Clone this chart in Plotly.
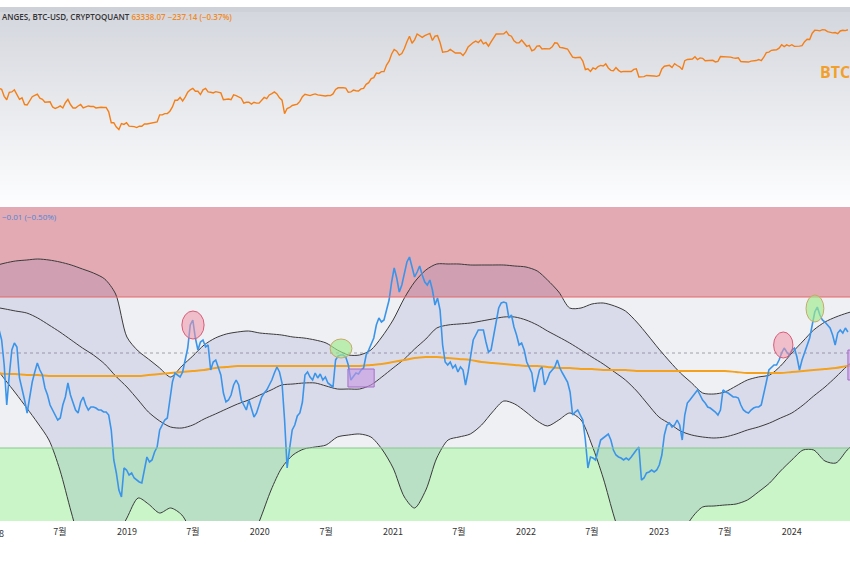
import pandas as pd
import plotly.graph_objects as go

# ---------------- data ----------------
week_start = "2018-01-15"   # weekly (Monday) series
btc_price = [
    11500, 11200, 9000, 8100, 10200, 10300, 11000, 9500, 8200, 8600, 7000, 6900, 8000, 8900, 9300, 9600,
    8500, 8200, 7500, 7500, 7600, 6500, 6200, 6400, 6700, 6300, 7400, 8200, 7000, 6300, 6300, 6700,
    7000, 6300, 6500, 6700, 6600, 6600, 6300, 6450, 6450, 6400, 6400, 5600, 4000, 4000, 3500, 3250,
    3900, 3800, 4000,
    3600, 3600, 3550, 3450, 3600, 3600, 3850, 3850, 3900, 3950, 4000, 4100, 5100, 5100, 5300, 5300,
    5700, 6500, 8000, 8000, 8700, 7800, 8800, 10200, 11000, 11500, 10500, 10500, 9500, 11000, 11500,
    10300, 10200, 10000, 10400, 10300, 10000, 8100, 8200, 8300, 8100, 9400, 9200, 8800, 8500, 7300,
    7500, 7500, 7100, 7500, 7300, 7300,
    8100, 8700, 8400, 9400, 9800, 10300, 9700, 8600, 8000, 5300, 6200, 6400, 6800, 6900, 7100, 7700,
    8900, 9600, 9300, 9200, 9500, 9700, 9400, 9300, 9100, 9100, 9250, 9200, 9700, 11100, 11700, 11800,
    11700, 11600, 10200, 10300, 10900, 10700, 10600, 11300, 11500, 13000, 13700, 15500, 16000, 18400,
    18200, 19200, 19200, 23500, 26500, 33000,
    38000, 36000, 32000, 33500, 39000, 48000, 57000, 46000, 51000, 61000, 58000, 55000, 58000, 60000,
    62000, 50000, 57000, 58000, 47000, 35000, 35500, 35800, 38000, 35500, 34000, 34000, 34000, 31500,
    35000, 41000, 44500, 47000, 49000, 47000, 51000, 45000, 47000, 42000, 48000, 55000, 61000, 61000,
    61500, 61500, 66000, 59000, 57000, 49500, 46500, 46500, 50500, 46500,
    41800, 43000, 36500, 37800, 42000, 42500, 38500, 39000, 38500, 38700, 41200, 46500, 46000, 40500,
    40000, 39500, 38500, 34000, 30000, 29400, 29400, 29900, 26500, 20500, 21000, 19300, 21500, 20800,
    22500, 23300, 22900, 24400, 21500, 20000, 19800, 21800, 20000, 19000, 19400, 19400, 19200, 19300,
    20600, 21000, 16300, 16500, 16500, 17100, 17100, 16800, 16800, 16600,
    17100, 20900, 22700, 23000, 23300, 21800, 24500, 23200, 22300, 20500, 26900, 27900, 28400, 28300,
    30400, 27800, 29300, 28900, 26800, 26800, 26800, 27200, 25900, 26300, 30500, 30500, 30300, 30200,
    30000, 29300, 29000, 29400, 26100, 26000, 25900, 25800, 26500, 26600, 27000, 27900, 26900, 29900,
    34500, 35000, 37000, 37400, 37500, 39500, 43800, 41400, 43700, 42100,
    43900, 41700, 41500, 42000, 42600, 48300, 52000, 51700, 62500, 68500, 68300, 67200, 69600, 69300,
    65600, 64900, 63100, 63900, 61500, 67000, 68500, 67700, 69500,
]
indicator = [
    1.91, 1.81, 1.56, 1.16, 1.46, 1.71, 1.78, 1.74, 1.43, 1.33,
    1.21, 1.08, 1.26, 1.39, 1.49, 1.58, 1.51, 1.46, 1.33, 1.26,
    1.16, 1.11, 1.06, 1.01, 1.03, 1.16, 1.24, 1.38, 1.26, 1.19,
    1.11, 1.08, 1.19, 1.24, 1.16, 1.11, 1.14, 1.14, 1.13, 1.11,
    1.11, 1.09, 1.09, 1.06, 0.91, 0.61, 0.48, 0.31, 0.24, 0.53,
    0.51, 0.46, 0.48, 0.43, 0.41, 0.39, 0.38, 0.51, 0.64, 0.59,
    0.61, 0.69, 0.74, 0.91, 0.96, 1.01, 1.03, 1.21, 1.39, 1.48,
    1.46, 1.44, 1.49, 1.63, 1.73, 1.96, 2.01, 1.83, 1.71, 1.79,
    1.81, 1.74, 1.76, 1.51, 1.59, 1.61, 1.53, 1.46, 1.28, 1.19,
    1.21, 1.26, 1.36, 1.41, 1.36, 1.21, 1.16, 1.11, 1.21, 1.11,
    1.04, 1.08, 1.16, 1.24, 1.28, 1.31, 1.36, 1.41, 1.48, 1.54,
    1.49, 1.38, 1.01, 0.53, 0.73, 0.91, 0.96, 1.05, 1.08, 1.19,
    1.46, 1.49, 1.44, 1.41, 1.48, 1.43, 1.47, 1.41, 1.44, 1.38,
    1.36, 1.34, 1.61, 1.65, 1.66, 1.66, 1.64, 1.56, 1.41, 1.44,
    1.48, 1.47, 1.51, 1.53, 1.66, 1.71, 1.78, 1.83, 1.96, 2.03,
    1.99, 2.01, 2.11, 2.21, 2.39, 2.53, 2.43, 2.29, 2.36, 2.46,
    2.59, 2.64, 2.53, 2.44, 2.49, 2.55, 2.46, 2.39, 2.36, 2.41,
    2.31, 2.16, 2.23, 2.11, 1.76, 1.59, 1.56, 1.59, 1.53, 1.56,
    1.49, 1.54, 1.51, 1.36, 1.49, 1.66, 1.81, 1.86, 1.91, 1.91,
    1.91, 1.79, 1.69, 1.71, 1.86, 1.99, 2.13, 2.18, 2.19, 2.18,
    2.03, 2.06, 1.94, 1.86, 1.76, 1.78, 1.71, 1.59, 1.53, 1.48,
    1.29, 1.41, 1.51, 1.54, 1.36, 1.41, 1.48, 1.51, 1.54, 1.61,
    1.53, 1.48, 1.44, 1.39, 1.29, 1.06, 1.09, 1.11, 1.06, 1.01,
    0.81, 0.53, 0.64, 0.63, 0.61, 0.71, 0.81, 0.83, 0.85, 0.87,
    0.81, 0.71, 0.66, 0.64, 0.63, 0.61, 0.63, 0.61, 0.64, 0.68,
    0.71, 0.74, 0.41, 0.43, 0.48, 0.49, 0.51, 0.49, 0.51, 0.56,
    0.66, 0.86, 0.96, 0.98, 0.94, 0.96, 1.01, 0.96, 0.81, 1.06,
    1.18, 1.21, 1.24, 1.28, 1.31, 1.26, 1.21, 1.18, 1.14, 1.13,
    1.11, 1.09, 1.06, 1.11, 1.31, 1.29, 1.28, 1.26, 1.24, 1.24,
    1.23, 1.16, 1.11, 1.09, 1.08, 1.11, 1.13, 1.14, 1.14, 1.16,
    1.26, 1.39, 1.51, 1.54, 1.56, 1.56, 1.61, 1.68, 1.73, 1.69,
    1.66, 1.71, 1.73, 1.64, 1.51, 1.61, 1.69, 1.76, 1.83, 1.96,
    2.09, 2.14, 2.06, 2.01, 1.99, 1.96, 1.93, 1.86, 1.76, 1.88,
    1.91, 1.88, 1.93, 1.89,
]

month_start = "2018-01-01"  # monthly envelope series
band_upper = [
    2.55, 2.58, 2.60, 2.61, 2.62, 2.61, 2.59, 2.56, 2.52, 2.48, 2.42, 2.27, 1.84, 1.70, 1.62, 1.53,
    1.44, 1.55, 1.65, 1.76, 1.83, 1.87, 1.89, 1.90, 1.88, 1.87, 1.86, 1.84, 1.83, 1.81, 1.78, 1.71,
    1.66, 1.66, 1.71, 1.84, 2.01, 2.23, 2.39, 2.51, 2.57, 2.57, 2.57, 2.56, 2.56, 2.56, 2.56, 2.55,
    2.54, 2.50, 2.41, 2.29, 2.13, 2.13, 2.17, 2.18, 2.15, 2.10, 1.99, 1.86, 1.72, 1.59, 1.48, 1.38,
    1.28, 1.27, 1.29, 1.35, 1.41, 1.44, 1.46, 1.55, 1.68, 1.80, 1.91, 1.99, 2.04, 2.08, 2.11,
]
band_middle = [
    2.14, 2.12, 2.10, 2.08, 2.03, 1.96, 1.89, 1.81, 1.73, 1.66, 1.57, 1.45, 1.34, 1.21, 1.09, 1.00,
    0.94, 0.93, 0.96, 1.02, 1.07, 1.12, 1.17, 1.21, 1.26, 1.31, 1.36, 1.37, 1.38, 1.38, 1.35, 1.32,
    1.32, 1.32, 1.36, 1.44, 1.53, 1.62, 1.72, 1.82, 1.93, 1.96, 1.97, 1.98, 2.00, 2.02, 2.04, 2.04,
    2.01, 1.96, 1.90, 1.84, 1.78, 1.71, 1.64, 1.57, 1.49, 1.41, 1.30, 1.17, 1.04, 0.97, 0.90, 0.86,
    0.84, 0.83, 0.84, 0.87, 0.91, 0.94, 0.98, 1.03, 1.08, 1.16, 1.25, 1.34, 1.44, 1.55, 1.63,
]
band_lower = [
    1.56, 1.41, 1.28, 1.13, 0.98, 0.81, 0.51, 0.09, -0.29, -0.49, -0.44, -0.19, 0.03, 0.23, 0.17, 0.08,
    0.13, 0.06, -0.14, -0.34, -0.49, -0.54, -0.44, -0.24, 0.01, 0.31, 0.53, 0.66, 0.72, 0.74, 0.76, 0.84,
    0.86, 0.87, 0.84, 0.72, 0.53, 0.24, 0.13, 0.31, 0.63, 0.81, 0.84, 0.87, 0.96, 1.09, 1.20, 1.17,
    1.09, 1.00, 0.95, 1.01, 1.08, 1.01, 0.76, 0.43, 0.03, -0.29, -0.54, -0.69, -0.64, -0.44, -0.17, 0.03,
    0.14, 0.15, 0.16, 0.17, 0.21, 0.29, 0.38, 0.50, 0.61, 0.71, 0.71, 0.60, 0.58, 0.71, 0.81,
]
moving_avg = [
    1.48, 1.47, 1.47, 1.46, 1.46, 1.45, 1.45, 1.45, 1.45, 1.45, 1.45, 1.45, 1.45, 1.45, 1.46, 1.47,
    1.48, 1.49, 1.50, 1.51, 1.53, 1.54, 1.55, 1.55, 1.55, 1.55, 1.55, 1.55, 1.55, 1.55, 1.55, 1.55,
    1.55, 1.55, 1.56, 1.57, 1.59, 1.61, 1.63, 1.64, 1.64, 1.63, 1.62, 1.61, 1.59, 1.58, 1.57, 1.56,
    1.55, 1.55, 1.54, 1.53, 1.53, 1.52, 1.52, 1.51, 1.51, 1.51, 1.50, 1.50, 1.50, 1.50, 1.50, 1.50,
    1.50, 1.50, 1.50, 1.49, 1.48, 1.48, 1.48, 1.48, 1.49, 1.50, 1.51, 1.52, 1.53, 1.55, 1.56,
]

zone_top, zone_high, zone_low, zone_bottom = 3.14, 2.24, 0.73, 0.0
mid_level = 1.68

tick_vals = ["2018-07-01", "2019-01-01", "2019-07-01", "2020-01-01", "2020-07-01", "2021-01-01",
             "2021-07-01", "2022-01-01", "2022-07-01", "2023-01-01", "2023-07-01", "2024-01-01"]
tick_text = ["7월", "2019", "7월", "2020", "7월", "2021", "7월", "2022", "7월", "2023", "7월", "2024"]

# highlighted spots: (kind, x0, x1, y0, y1)
marks = [
    ("pink", "2019-06-01", "2019-08-01", 1.82, 2.10),
    ("green", "2020-07-12", "2020-09-10", 1.63, 1.82),
    ("box", "2020-08-30", "2020-11-10", 1.34, 1.52),
    ("pink", "2023-11-12", "2024-01-04", 1.63, 1.89),
    ("green", "2024-02-09", "2024-03-29", 1.99, 2.26),
    ("box", "2024-06-03", "2024-07-10", 1.41, 1.71),
]

# ---------------- figure ----------------
W, H = 850, 567
weeks = pd.date_range(week_start, periods=len(btc_price), freq="W-MON")
weeks_ind = pd.date_range(week_start, periods=len(indicator), freq="W-MON")
months = pd.date_range(month_start, periods=len(band_upper), freq="MS")

def py(px):  # pixel row -> paper fraction
    return 1 - px / H

top_dom = [py(205), py(7)]
bot_dom = [py(521), py(207)]
x_range = ["2018-01-17 12:00", "2024-06-08 18:00"]

fig = go.Figure()

fig.add_trace(go.Scatter(x=weeks, y=btc_price, xaxis="x2", yaxis="y", mode="lines",
                         line=dict(color="#f57f17", width=1.4), hoverinfo="skip"))

fig.add_trace(go.Scatter(x=months, y=band_lower, xaxis="x", yaxis="y2", mode="lines",
                         line=dict(color="#3a3a3a", width=1, shape="spline", smoothing=0.8)))
fig.add_trace(go.Scatter(x=months, y=band_upper, xaxis="x", yaxis="y2", mode="lines",
                         line=dict(color="#3a3a3a", width=1, shape="spline", smoothing=0.8),
                         fill="tonexty", fillcolor="rgba(95,95,175,0.14)"))
fig.add_trace(go.Scatter(x=months, y=band_middle, xaxis="x", yaxis="y2", mode="lines",
                         line=dict(color="#3a3a3a", width=1, shape="spline", smoothing=0.8)))
fig.add_trace(go.Scatter(x=months, y=moving_avg, xaxis="x", yaxis="y2", mode="lines",
                         line=dict(color="#f4a21e", width=2, shape="spline")))
fig.add_trace(go.Scatter(x=weeks_ind, y=indicator, xaxis="x", yaxis="y2", mode="lines",
                         line=dict(color="#3a95ea", width=1.6)))

shapes = []
# top panel vertical gradient (slightly overlapping strips)
n = 40
y0p, y1p = 7, 205
for k in range(n):
    a = y0p + (y1p - y0p) * k / n
    b = min(y1p, y0p + (y1p - y0p) * (k + 1) / n + 1.5)
    t = k / (n - 1)
    r = int(212 + (253 - 212) * t)
    g = int(215 + (253 - 215) * t)
    bl = int(222 + (254 - 222) * t)
    if k == 0:
        r, g, bl = 206, 209, 215
    shapes.append(dict(type="rect", xref="paper", yref="paper", x0=0, x1=1, y0=py(b), y1=py(a),
                       fillcolor=f"rgb({r},{g},{bl})", line=dict(width=0), layer="below"))
# lower panel zones
shapes.append(dict(type="rect", xref="paper", yref="y2", x0=0, x1=1, y0=zone_high, y1=zone_top,
                   fillcolor="#e3aab3", line=dict(width=0), layer="below"))
shapes.append(dict(type="rect", xref="paper", yref="y2", x0=0, x1=1, y0=zone_low, y1=zone_high,
                   fillcolor="#eff0f4", line=dict(width=0), layer="below"))
shapes.append(dict(type="rect", xref="paper", yref="y2", x0=0, x1=1, y0=zone_bottom, y1=zone_low,
                   fillcolor="#c9f5c9", line=dict(width=0), layer="below"))
shapes.append(dict(type="line", xref="paper", yref="y2", x0=0, x1=1, y0=zone_high, y1=zone_high,
                   line=dict(color="#e56b6b", width=1)))
shapes.append(dict(type="line", xref="paper", yref="y2", x0=0, x1=1, y0=zone_low, y1=zone_low,
                   line=dict(color="#86c98c", width=1)))
shapes.append(dict(type="line", xref="paper", yref="y2", x0=0, x1=1, y0=mid_level, y1=mid_level,
                   line=dict(color="#a0a0a8", width=1, dash="dot"), layer="below"))
for kind, xa, xb, ya, yb in marks:
    if kind == "pink":
        shapes.append(dict(type="circle", xref="x", yref="y2", x0=xa, x1=xb, y0=ya, y1=yb,
                           fillcolor="rgba(240,150,170,0.55)", line=dict(color="#d95c78", width=1)))
    elif kind == "green":
        shapes.append(dict(type="circle", xref="x", yref="y2", x0=xa, x1=xb, y0=ya, y1=yb,
                           fillcolor="rgba(160,235,140,0.65)", line=dict(color="#c9a86a", width=1)))
    else:
        shapes.append(dict(type="rect", xref="x", yref="y2", x0=xa, x1=xb, y0=ya, y1=yb,
                           fillcolor="rgba(200,150,225,0.6)", line=dict(color="#a66cc8", width=1)))

annotations = [
    dict(xref="paper", yref="paper", x=0, y=py(17), xanchor="left", yanchor="middle", showarrow=False,
         text="ANGES, BTC-USD, CRYPTOQUANT <span style='color:#f08a24'>63338.07 −237.14 (−0.37%)</span>",
         font=dict(family="Open Sans, Liberation Sans", size=8, color="#333333", weight=600)),
    dict(xref="paper", yref="paper", x=818 / W, y=py(72), xanchor="left", yanchor="middle", showarrow=False,
         text="BTC", font=dict(family="Open Sans, Liberation Sans", size=16, color="#f3a02a", weight=700)),
    dict(xref="paper", yref="paper", x=0, y=py(217), xanchor="left", yanchor="middle", showarrow=False,
         text="−0.01 (−0.50%)", font=dict(family="Open Sans, Liberation Sans", size=8, color="#4d86d6")),
    dict(xref="paper", yref="paper", x=-6 / W, y=py(533), xanchor="center", yanchor="middle",
         showarrow=False, text="2018",
         font=dict(family="Noto Sans CJK KR, Open Sans", size=9, color="#333333")),
]

fig.update_layout(
    width=W, height=H, margin=dict(l=0, r=0, t=0, b=0, autoexpand=False),
    paper_bgcolor="white", plot_bgcolor="rgba(0,0,0,0)", showlegend=False,
    shapes=shapes, annotations=annotations, hovermode=False,
    xaxis=dict(domain=[0, 1], anchor="y2", type="date", range=x_range, tickvals=tick_vals,
               ticktext=tick_text, showgrid=False, zeroline=False, showline=False, ticks="",
               ticklabelstandoff=4, automargin=False,
               tickfont=dict(family="Noto Sans CJK KR, Open Sans", size=9, color="#333333")),
    xaxis2=dict(domain=[0, 1], anchor="y", type="date", matches="x", range=x_range, visible=False),
    yaxis=dict(domain=top_dom, type="log", range=[2.5055, 5.1455], visible=False),
    yaxis2=dict(domain=bot_dom, range=[zone_bottom, zone_top], visible=False),
)

fig.write_html("out.html", config={"displayModeBar": False},
               post_script="document.body.style.margin='0';document.body.style.overflow='hidden';")
